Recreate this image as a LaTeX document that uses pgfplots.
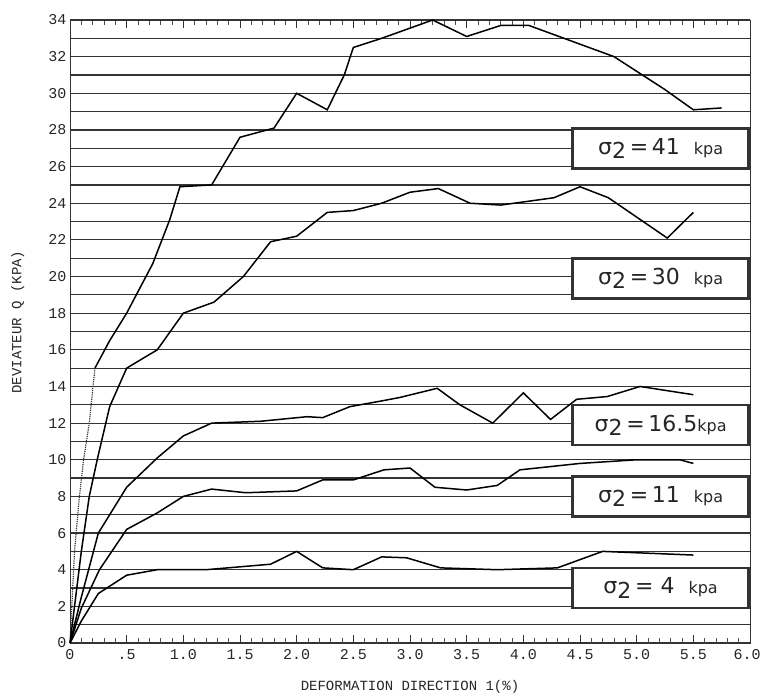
\documentclass[border=0pt]{standalone}
\usepackage{pgfplots}
\pgfplotsset{compat=1.18}
\usepackage{fontspec}
\setmainfont{Liberation Mono}
\newfontfamily\boxfont{DejaVu Sans}
\begin{document}
\begin{tikzpicture}
\begin{axis}[
  name=ax, at={(0,0)}, anchor=south west,
  scale only axis, width=680pt, height=623pt,
  xmin=0, xmax=6, ymin=0, ymax=34,
  clip=false,
  xtick={0,0.5,...,6},
  xticklabels={0,.5,1.0,1.5,2.0,2.5,3.0,3.5,4.0,4.5,5.0,5.5,\hspace*{-6pt}6.0},
  minor x tick num=4,
  ytick={0,2,...,34},
  yticklabels={0,2,4,6,8,10,12,14,16,18,20,22,24,26,28,30,32,34},
  minor ytick={1,3,...,33},
  /pgf/number format/assume math mode=true,
  tick align=inside,
  xtick pos=both,
  ytick style={draw=none},
  minor y tick style={draw=none},
  xtick style={line width=0.8pt, black!80},
  minor x tick style={line width=0.7pt, black!70},
  major tick length=8pt, minor tick length=5pt,
  ymajorgrids, yminorgrids,
  major grid style={line width=1.2pt, black!80},
  minor grid style={line width=1.2pt, black!80},
  axis line style={line width=0.8pt, black!80},
  tick label style={font=\fontsize{15}{15}\selectfont, text=black!85},
  xticklabel style={yshift=-3pt},
  label style={font=\fontsize{14}{14}\selectfont, text=black!85},
  xlabel={DEFORMATION DIRECTION 1(\%)},
  ylabel={DEVIATEUR Q (KPA)},
  xlabel style={at={(rel axis cs:0.5,-0.055)}, anchor=north},
  ylabel style={at={(rel axis cs:-0.077,0.515)}, anchor=center},
]
% 41 kPa
\addplot[densely dotted, line width=1.2pt, black!80, mark=none] coordinates {(0,0) (0.04,5) (0.08,7.8) (0.12,10) (0.17,12) (0.22,15)};
\addplot[black, solid, line width=1.5pt, mark=none] coordinates {(0.22,15) (0.35,16.5) (0.5,18) (0.73,20.7) (0.88,23.1) (0.97,24.9) (1.25,25.0) (1.5,27.6) (1.8,28.1) (2.0,30.0) (2.27,29.1) (2.42,31.0) (2.5,32.5) (2.75,33.0) (3.2,34.0) (3.5,33.1) (3.8,33.7) (4.05,33.7) (4.8,32.0) (5.25,30.2) (5.5,29.1) (5.75,29.2)};
% 30 kPa
\addplot[black, solid, line width=1.5pt, mark=none] coordinates {(0,0) (0.05,2.5) (0.10,5) (0.17,8) (0.24,10) (0.35,12.9) (0.5,15) (0.77,16) (1.0,18) (1.27,18.6) (1.53,20) (1.77,21.9) (2.0,22.2) (2.27,23.5) (2.5,23.6) (2.75,24.0) (3.0,24.6) (3.25,24.8) (3.53,24.0) (3.8,23.9) (4.27,24.3) (4.5,24.9) (4.75,24.3) (5.27,22.1) (5.5,23.5)};
% 16.5 kPa
\addplot[black, solid, line width=1.5pt, mark=none] coordinates {(0,0) (0.1,2.5) (0.25,6.0) (0.5,8.5) (0.77,10.1) (1.0,11.3) (1.25,12.0) (1.68,12.1) (2.09,12.35) (2.23,12.3) (2.47,12.9) (2.74,13.2) (2.91,13.4) (3.24,13.9) (3.44,13.0) (3.73,12.0) (4.0,13.65) (4.24,12.2) (4.47,13.3) (4.74,13.45) (5.03,14.0) (5.5,13.55)};
% 11 kPa
\addplot[black, solid, line width=1.5pt, mark=none] coordinates {(0,0) (0.1,1.9) (0.26,4.0) (0.5,6.2) (0.77,7.1) (1.0,8.0) (1.25,8.4) (1.55,8.2) (2.0,8.3) (2.23,8.9) (2.5,8.9) (2.77,9.45) (3.0,9.55) (3.22,8.5) (3.5,8.35) (3.77,8.6) (3.97,9.45) (4.5,9.8) (5.0,10.0) (5.38,10.0) (5.5,9.8)};
% 4 kPa
\addplot[black, solid, line width=1.5pt, mark=none] coordinates {(0,0) (0.1,1.2) (0.25,2.7) (0.5,3.7) (0.77,4.0) (1.2,4.0) (1.77,4.3) (2.0,5.0) (2.23,4.1) (2.5,4.0) (2.75,4.7) (2.97,4.65) (3.27,4.1) (3.77,4.0) (4.3,4.1) (4.7,5.0) (5.5,4.8)};
% labels
\tikzset{lab/.style={draw=black!80, line width=2.8pt, fill=white, anchor=east,
  minimum width=176pt, minimum height=40pt, inner sep=2pt,
  font=\boxfont\fontsize{22}{22}\selectfont, text=black!85}}
\node[lab] at (axis cs:6,27.0) {σ\raisebox{-0.35ex}{2}\,=\,41~ {\fontsize{16}{16}\selectfont kpa}};
\node[lab] at (axis cs:6,19.9) {σ\raisebox{-0.35ex}{2}\,=\,30~ {\fontsize{16}{16}\selectfont kpa}};
\node[lab] at (axis cs:6,11.9) {σ\raisebox{-0.35ex}{2}\,=\,16.5{\fontsize{16}{16}\selectfont kpa}};
\node[lab] at (axis cs:6,8.0) {σ\raisebox{-0.35ex}{2}\,=\,11~ {\fontsize{16}{16}\selectfont kpa}};
\node[lab] at (axis cs:6,3.0) {σ\raisebox{-0.35ex}{2}\,=~4~ {\fontsize{16}{16}\selectfont kpa}};
\end{axis}
\pgfresetboundingbox
\path (-70pt,-53pt) rectangle (692pt,643pt);
\end{tikzpicture}
\end{document}
